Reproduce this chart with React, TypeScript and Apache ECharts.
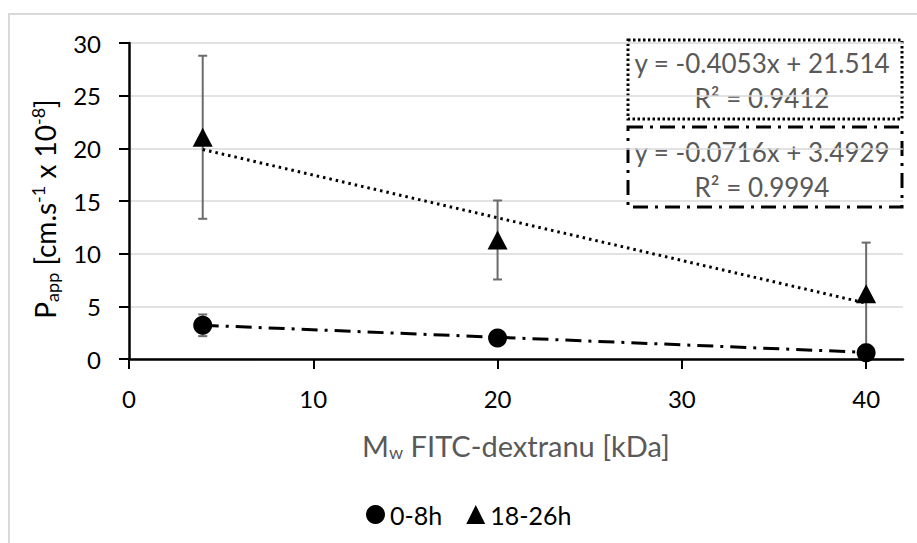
import React, { useEffect, useRef } from 'react';
import * as echarts from 'echarts';

// ---- data ----
const xValues = [4, 20, 40];
const seriesNames = ['0-8h', '18-26h'];
const earlyValues = [3.2, 2.0, 0.6];
const earlyErrors = [1.03, 0.3, 0.4];
const lateValues = [21.05, 11.3, 6.2];
const lateErrors = [7.74, 3.75, 4.85];
const trendSlopes = [-0.0716, -0.4053];
const trendIntercepts = [3.4929, 21.514];
const trendRange = [4, 40];
const trendEquations = ['y = -0.4053x + 21.514', 'y = -0.0716x + 3.4929'];
const trendR2 = ['R² = 0.9412', 'R² = 0.9994'];
const xTicks = [0, 10, 20, 30, 40];

const FONT = 'Lato';
const GRAY = '#595959';

function trendPoints(i: number) {
  return trendRange.map((x) => [x, trendSlopes[i] * x + trendIntercepts[i]]);
}

function errorData(vals: number[], errs: number[]) {
  return xValues.map((x, i) => [x, vals[i], errs[i]]);
}

const errorRender = (params: any, api: any) => {
  const x = api.value(0);
  const y = api.value(1);
  const e = api.value(2);
  const top = api.coord([x, y + e]);
  const bot = api.coord([x, y - e]);
  const cap = 4.5;
  const style = { stroke: '#6b6b6b', lineWidth: 2 };
  return {
    type: 'group',
    children: [
      { type: 'line', shape: { x1: top[0], y1: top[1], x2: bot[0], y2: bot[1] }, style },
      { type: 'line', shape: { x1: top[0] - cap, y1: top[1], x2: top[0] + cap, y2: top[1] }, style },
      { type: 'line', shape: { x1: bot[0] - cap, y1: bot[1], x2: bot[0] + cap, y2: bot[1] }, style },
    ],
  };
};

export default function App() {
  const ref = useRef<HTMLDivElement>(null);
  useEffect(() => {
    if (!ref.current) return;
    const chart = echarts.init(ref.current, undefined, { renderer: 'svg' });
    const boxX = 628;
    const boxW = 274;
    chart.setOption({
      animation: false,
      backgroundColor: '#fff',
      grid: { left: 129, right: 14, top: 43, bottom: 184 },
      xAxis: {
        type: 'value',
        min: 0,
        max: 42,
        interval: 10,
        splitLine: { show: false },
        axisLine: { lineStyle: { color: '#000', width: 2.5 } },
        axisTick: { show: true, length: 10, lineStyle: { color: '#000', width: 2 }, customValues: xTicks },
        axisLabel: { margin: 27, fontSize: 24, fontFamily: FONT, color: '#000', customValues: xTicks },
        name: '{m|M}{sub|w}{m| FITC-dextranu [kDa]}',
        nameLocation: 'middle',
        nameGap: 70,
        nameTextStyle: {
          rich: {
            m: { fontSize: 29, fontFamily: FONT, color: GRAY, lineHeight: 32 },
            sub: { fontSize: 18, fontFamily: FONT, color: GRAY, lineHeight: 6, verticalAlign: 'bottom' },
          },
        },
      },
      yAxis: {
        type: 'value',
        min: 0,
        max: 30,
        interval: 5,
        splitLine: { show: true, lineStyle: { color: '#d9d9d9', width: 1.5 } },
        axisLine: { show: true, lineStyle: { color: '#000', width: 2.5 } },
        axisTick: { show: true, length: 10, lineStyle: { color: '#000', width: 2 } },
        axisLabel: { margin: 28, fontSize: 24, fontFamily: FONT, color: '#000' },
        name: '{m|P}{sub|app}{m| [cm.s}{sup|-1}{m| x 10}{sup|-8}{m|]}',
        nameLocation: 'middle',
        nameGap: 68,
        nameTextStyle: {
          padding: [0, 16, 0, 0],
          rich: {
            m: { fontSize: 28, fontFamily: FONT, color: '#000', lineHeight: 32 },
            sub: { fontSize: 18, fontFamily: FONT, color: '#000', lineHeight: 12, verticalAlign: 'bottom' },
            sup: { fontSize: 18, fontFamily: FONT, color: '#000', lineHeight: 16, verticalAlign: 'top' },
          },
        },
      },
      legend: {
        left: 366,
        top: 502,
        padding: 0,
        itemGap: 24,
        itemWidth: 19,
        itemHeight: 19,
        textStyle: { fontSize: 25, fontFamily: FONT, color: '#000' },
        data: [
          { name: seriesNames[0], icon: 'circle' },
          { name: seriesNames[1], icon: 'triangle' },
        ],
      },
      series: [
        {
          type: 'custom',
          name: 'err0',
          renderItem: errorRender,
          data: errorData(earlyValues, earlyErrors),
          silent: true,
        },
        {
          type: 'custom',
          name: 'err1',
          renderItem: errorRender,
          data: errorData(lateValues, lateErrors),
          silent: true,
        },
        {
          type: 'line',
          name: 'trend0',
          data: trendPoints(0),
          symbol: 'none',
          lineStyle: { color: '#000', width: 3, type: [16, 7, 3, 7] },
          silent: true,
        },
        {
          type: 'line',
          name: 'trend1',
          data: trendPoints(1),
          symbol: 'none',
          lineStyle: { color: '#000', width: 3, type: [2.5, 4] },
          silent: true,
        },
        {
          type: 'scatter',
          name: seriesNames[0],
          symbol: 'circle',
          symbolSize: 19,
          itemStyle: { color: '#000', opacity: 1 },
          data: xValues.map((x, i) => [x, earlyValues[i]]),
        },
        {
          type: 'scatter',
          name: seriesNames[1],
          symbol: 'triangle',
          symbolSize: [20, 19],
          itemStyle: { color: '#000', opacity: 1 },
          data: xValues.map((x, i) => [x, lateValues[i]]),
        },
      ],
      graphic: [
        {
          type: 'rect',
          silent: true,
          shape: { x: 9, y: 14, width: 1000, height: 600 },
          style: { fill: 'none', stroke: '#d9d9d9', lineWidth: 2 },
        },
        {
          type: 'rect',
          silent: true,
          shape: { x: boxX, y: 40, width: boxW, height: 79 },
          style: { fill: '#fff', stroke: '#000', lineWidth: 3, lineDash: [2.5, 2.5] },
        },
        {
          type: 'rect',
          silent: true,
          shape: { x: boxX, y: 127, width: boxW, height: 80 },
          style: { fill: '#fff', stroke: '#000', lineWidth: 3, lineDash: [15, 7, 3, 7] },
        },
        ...[0, 1].flatMap((i) => [
          {
            type: 'text',
            silent: true,
            x: boxX + boxW / 2 - 3,
            y: 63 + i * 89,
            style: { text: trendEquations[i], font: `26px ${FONT}`, fill: GRAY, align: 'center', verticalAlign: 'middle' },
          },
          {
            type: 'text',
            silent: true,
            x: boxX + boxW / 2 - 3,
            y: 98 + i * 89,
            style: { text: trendR2[i], font: `26px ${FONT}`, fill: GRAY, align: 'center', verticalAlign: 'middle' },
          },
        ]),
      ],
    });
    return () => chart.dispose();
  }, []);
  return <div ref={ref} style={{ width: 917, height: 543, position: 'absolute', left: 0, top: 0 }} />;
}
